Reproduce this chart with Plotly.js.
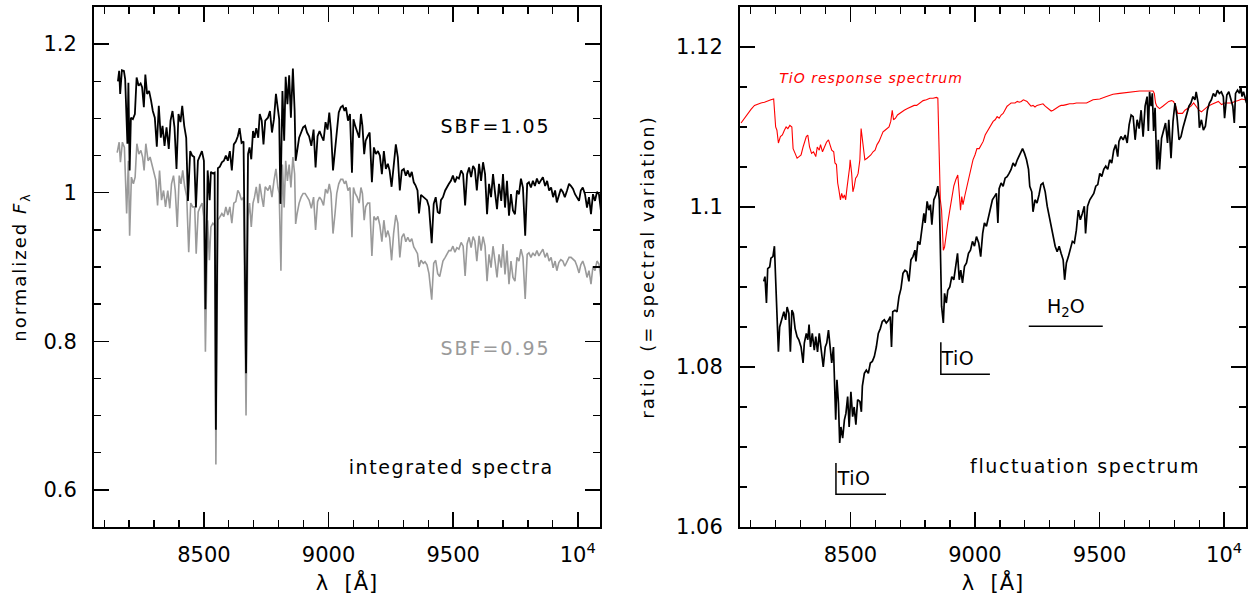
<!DOCTYPE html>
<html>
<head>
<meta charset="utf-8">
<script src="https://cdn.plot.ly/plotly-3.0.1.min.js"></script>
<style>html,body{margin:0;padding:0;background:#fff;}#chart{width:1253px;height:595px;}</style>
</head>
<body>
<div id="chart"></div>
<script>
// ---------- Left panel: integrated spectra ----------
const lamBlackL = [8155,8160,8164,8171,8179,8184,8193,8197,8202,8207,8215,8223,8230,8238,8246,8252,8259,8265,8272,8280,8288,8295,8303,8311,8319,8327,8334,8342,8350,8359,8366,8374,8382,8390,8398,8406,8413,8421,8429,8436,8445,8453,8461,8468,8476,8484,8492,8500,8506,8515,8523,8528,8536,8543,8548,8556,8564,8572,8580,8588,8596,8604,8612,8620,8628,8636,8643,8651,8659,8669,8677,8683,8690,8697,8703,8710,8718,8724,8732,8739,8746,8757,8765,8773,8781,8789,8797,8802,8807,8815,8822,8828,8835,8842,8849,8857,8864,8868,8874,8882,8890,8898,8906,8914,8922,8931,8940,8948,8956,8964,8972,8980,8988,8996,9003,9010,9018,9026,9033,9041,9049,9057,9064,9070,9078,9086,9094,9100,9107,9115,9123,9130,9136,9143,9149,9157,9165,9174,9182,9190,9198,9206,9214,9222,9230,9238,9245,9253,9261,9270,9278,9286,9294,9302,9310,9318,9326,9334,9342,9349,9357,9363,9371,9380,9387,9395,9403,9414,9422,9430,9438,9446,9451,9459,9468,9476,9483,9491,9499,9507,9515,9523,9532,9540,9548,9556,9564,9572,9580,9587,9595,9604,9612,9620,9628,9636,9644,9652,9660,9668,9676,9684,9693,9700,9708,9716,9724,9732,9740,9748,9756,9764,9772,9780,9789,9797,9804,9812,9820,9828,9836,9844,9852,9860,9869,9877,9885,9893,9901,9909,9916,9924,9932,9940,9948,9957,9965,9973,9981,9989,9997,10005,10012,10020,10029,10037,10045,10053,10061,10069,10077,10085,10093];
const fluxBlackL = [1.150,1.164,1.133,1.165,1.164,1.153,1.066,1.148,1.030,1.101,1.099,1.106,1.155,1.144,1.147,1.142,1.115,1.159,1.133,1.137,1.124,1.110,1.101,1.062,1.117,1.074,1.090,1.063,1.088,1.059,1.097,1.110,1.088,1.032,1.106,1.095,1.117,1.090,1.074,0.989,1.056,1.050,1.048,0.980,1.043,1.050,1.056,1.043,0.843,1.030,0.990,1.028,1.026,1.027,0.681,1.033,1.035,1.041,1.043,1.050,1.043,1.056,1.030,1.065,1.069,1.076,1.087,1.067,1.069,0.757,1.052,1.061,1.045,1.083,1.074,1.087,1.074,1.106,1.097,1.065,1.097,1.101,1.110,1.081,1.099,1.133,1.115,1.099,0.985,1.137,1.070,1.156,1.119,1.158,1.101,1.167,1.110,1.043,1.056,1.074,1.081,1.088,1.090,1.081,1.076,1.063,1.085,1.034,1.076,1.083,1.076,1.070,1.095,1.085,1.108,1.083,1.030,1.059,1.083,1.108,1.115,1.117,1.110,1.115,1.097,1.106,1.027,1.099,1.090,1.081,1.074,1.106,1.090,1.052,1.070,1.076,1.081,1.014,1.061,1.052,1.056,1.050,1.025,1.056,1.032,1.039,1.030,1.008,1.034,1.065,1.048,1.003,1.030,1.032,1.023,1.030,1.021,1.028,1.014,1.010,1.003,0.972,0.997,0.994,0.992,0.990,0.981,0.932,0.985,0.994,0.974,0.972,0.990,0.994,1.003,1.009,1.012,1.016,1.023,1.014,1.021,1.019,1.030,1.025,0.983,1.025,1.034,1.021,1.036,1.032,1.003,1.039,1.016,1.041,1.025,0.971,1.012,0.994,1.025,1.000,0.978,1.012,0.989,1.025,0.980,1.016,0.969,0.998,0.976,0.971,1.003,0.998,1.019,1.007,0.942,1.012,1.014,1.007,1.016,1.009,1.019,1.012,1.016,1.021,1.009,1.016,1.003,1.007,0.994,1.003,0.987,0.998,1.005,1.001,0.994,1.003,1.012,1.009,1.005,0.998,0.994,0.989,1.003,1.007,0.998,0.980,0.994,0.971,0.998,0.989,1.001,0.998,0.975];

const lamGrayL = [8152,8160,8165,8173,8181,8190,8197,8202,8209,8217,8224,8231,8239,8247,8254,8260,8267,8276,8284,8291,8299,8307,8314,8322,8330,8338,8346,8355,8363,8370,8378,8385,8393,8401,8408,8415,8423,8431,8439,8447,8455,8463,8469,8477,8485,8493,8499,8506,8515,8522,8528,8536,8543,8548,8556,8564,8572,8580,8588,8596,8604,8612,8620,8628,8636,8643,8651,8659,8669,8677,8683,8690,8697,8703,8710,8718,8724,8732,8739,8746,8757,8765,8773,8781,8789,8797,8802,8809,8815,8822,8828,8835,8842,8849,8857,8864,8868,8874,8882,8890,8898,8906,8914,8922,8931,8940,8948,8956,8964,8972,8980,8988,8996,9003,9010,9018,9026,9033,9041,9049,9057,9064,9070,9078,9086,9094,9100,9107,9115,9123,9130,9136,9143,9149,9157,9165,9174,9182,9190,9198,9206,9214,9222,9230,9238,9245,9253,9261,9270,9278,9286,9294,9302,9310,9318,9326,9334,9342,9349,9357,9363,9371,9380,9387,9395,9403,9414,9422,9430,9438,9446,9451,9459,9468,9476,9483,9491,9499,9507,9515,9523,9532,9540,9548,9556,9564,9572,9580,9587,9595,9604,9612,9620,9628,9636,9644,9652,9660,9668,9676,9684,9693,9700,9708,9716,9724,9732,9740,9748,9756,9764,9772,9780,9789,9797,9804,9812,9820,9828,9836,9844,9852,9860,9869,9877,9885,9893,9901,9909,9916,9924,9932,9940,9948,9957,9965,9973,9981,9989,9997,10005,10012,10020,10029,10037,10045,10053,10061,10069,10077,10085,10093];
const fluxGrayL = [1.054,1.068,1.041,1.068,1.061,0.972,1.043,0.942,1.021,1.012,1.021,1.066,1.052,1.057,1.048,1.030,1.066,1.043,1.048,1.039,1.026,1.017,0.983,1.030,0.990,1.003,0.981,1.003,0.979,1.012,1.023,1.003,0.954,1.023,1.012,1.030,1.008,0.995,0.920,0.986,0.981,0.981,0.918,0.974,0.981,0.986,0.968,0.786,0.963,0.909,0.954,0.959,0.956,0.634,0.963,0.968,0.972,0.968,0.981,0.970,0.981,0.959,0.986,0.988,1.003,0.999,0.990,0.994,0.700,0.968,0.986,0.954,0.986,0.994,1.008,0.986,1.012,0.994,0.981,1.008,1.003,1.010,0.994,1.016,1.032,1.007,0.999,0.895,1.038,0.980,1.043,1.016,1.038,1.007,1.048,1.025,0.958,0.972,0.986,0.994,0.999,0.999,0.994,0.990,0.979,0.994,0.950,0.988,0.994,0.990,0.983,1.005,0.999,1.012,0.999,0.945,0.972,0.999,1.012,1.018,1.018,1.012,1.016,1.003,1.007,0.940,1.007,0.999,0.994,0.986,1.007,0.999,0.963,0.981,0.986,0.986,0.915,0.968,0.963,0.968,0.956,0.934,0.963,0.940,0.949,0.940,0.909,0.945,0.970,0.959,0.913,0.940,0.945,0.934,0.940,0.934,0.938,0.927,0.923,0.918,0.900,0.909,0.905,0.907,0.903,0.891,0.856,0.905,0.909,0.891,0.887,0.895,0.908,0.913,0.917,0.922,0.922,0.928,0.920,0.926,0.924,0.933,0.928,0.888,0.931,0.940,0.926,0.941,0.935,0.908,0.942,0.922,0.941,0.928,0.881,0.917,0.899,0.928,0.908,0.886,0.917,0.899,0.931,0.890,0.922,0.877,0.908,0.886,0.881,0.913,0.908,0.924,0.913,0.857,0.917,0.919,0.913,0.919,0.915,0.922,0.915,0.919,0.924,0.913,0.919,0.908,0.913,0.899,0.908,0.895,0.906,0.910,0.908,0.901,0.908,0.913,0.913,0.910,0.908,0.901,0.892,0.903,0.908,0.899,0.886,0.895,0.877,0.901,0.895,0.908,0.904,0.884];

// ---------- Right panel: fluctuation spectrum ----------
const lamRatio = [8152,8157,8163,8168,8176,8181,8189,8195,8200,8205,8211,8216,8225,8233,8240,8246,8253,8259,8265,8271,8278,8286,8293,8302,8310,8315,8323,8329,8334,8340,8347,8355,8361,8368,8375,8383,8391,8399,8405,8412,8418,8425,8432,8437,8441,8446,8452,8457,8462,8469,8476,8482,8489,8495,8502,8509,8515,8522,8529,8538,8544,8548,8556,8564,8572,8580,8588,8596,8604,8612,8620,8628,8636,8644,8652,8660,8665,8670,8679,8687,8695,8703,8711,8719,8727,8735,8743,8751,8759,8763,8771,8779,8787,8795,8800,8808,8815,8821,8827,8835,8843,8851,8857,8862,8866,8873,8878,8885,8891,8899,8907,8915,8923,8930,8937,8943,8950,8958,8966,8974,8982,8990,8998,9006,9015,9023,9031,9038,9046,9054,9062,9070,9078,9086,9092,9097,9105,9113,9121,9129,9137,9145,9153,9161,9170,9178,9186,9191,9199,9207,9215,9220,9228,9233,9241,9249,9257,9265,9273,9282,9290,9298,9306,9314,9322,9330,9338,9346,9354,9360,9367,9375,9383,9391,9399,9407,9415,9423,9431,9439,9444,9452,9461,9469,9477,9485,9493,9501,9509,9517,9525,9533,9541,9549,9557,9565,9573,9578,9586,9595,9603,9611,9619,9627,9635,9643,9651,9659,9667,9675,9683,9691,9696,9701,9707,9712,9717,9723,9730,9736,9741,9749,9757,9765,9773,9778,9787,9795,9803,9811,9819,9827,9835,9843,9851,9859,9867,9875,9883,9888,9896,9901,9909,9917,9925,9933,9941,9949,9957,9965,9973,9981,9989,9997,10002,10011,10019,10027,10035,10041,10046,10054,10062,10067,10072,10078,10083,10090,10098];
const ratio = [1.0907,1.0913,1.0880,1.0923,1.0925,1.0936,1.0938,1.0951,1.0909,1.0859,1.0819,1.0850,1.0861,1.0869,1.0859,1.0875,1.0867,1.0819,1.0871,1.0867,1.0848,1.0838,1.0834,1.0825,1.0805,1.0830,1.0842,1.0834,1.0853,1.0825,1.0842,1.0821,1.0838,1.0819,1.0842,1.0817,1.0800,1.0825,1.0830,1.0846,1.0830,1.0805,1.0825,1.0784,1.0734,1.0784,1.0755,1.0705,1.0725,1.0711,1.0734,1.0742,1.0763,1.0725,1.0769,1.0738,1.0750,1.0728,1.0759,1.0757,1.0744,1.0776,1.0792,1.0796,1.0792,1.0805,1.0807,1.0813,1.0825,1.0842,1.0848,1.0857,1.0859,1.0855,1.0858,1.0863,1.0825,1.0869,1.0871,1.0869,1.0888,1.0898,1.0917,1.0921,1.0919,1.0907,1.0934,1.0938,1.0946,1.0932,1.0957,1.0953,1.0973,1.0992,1.0980,1.1007,1.0996,1.1003,1.0978,1.1009,1.1015,1.1026,1.1009,1.0942,1.0876,1.0855,1.0892,1.0880,1.0896,1.0900,1.0913,1.0909,1.0928,1.0942,1.0909,1.0921,1.0905,1.0926,1.0930,1.0942,1.0946,1.0957,1.0951,1.0963,1.0955,1.0938,1.0967,1.0980,1.0976,1.0988,1.1001,1.1009,1.1013,1.1017,1.0980,1.1023,1.1030,1.1026,1.1036,1.1038,1.1042,1.1047,1.1055,1.1051,1.1059,1.1065,1.1069,1.1073,1.1067,1.1059,1.1047,1.1026,1.1019,1.0994,1.1009,1.1005,1.1015,1.1028,1.1030,1.1019,1.1001,1.0988,1.0978,1.0967,1.0951,1.0944,1.0951,1.0942,1.0934,1.0909,1.0930,1.0938,1.0946,1.0957,1.0955,1.0971,1.0996,1.0984,1.0992,1.1001,1.0967,1.1001,1.1009,1.1013,1.1017,1.1026,1.1028,1.1042,1.1038,1.1047,1.1051,1.1047,1.1059,1.1055,1.1071,1.1078,1.1063,1.1082,1.1088,1.1084,1.1090,1.1080,1.1103,1.1115,1.1113,1.1084,1.1109,1.1098,1.1121,1.1088,1.1126,1.1138,1.1095,1.1144,1.1126,1.1142,1.1095,1.1124,1.1047,1.1084,1.1047,1.1086,1.1096,1.1105,1.1080,1.1109,1.1061,1.1107,1.1130,1.1113,1.1084,1.1088,1.1099,1.1109,1.1117,1.1126,1.1130,1.1138,1.1134,1.1144,1.1130,1.1099,1.1109,1.1096,1.1101,1.1121,1.1130,1.1134,1.1142,1.1138,1.1146,1.1142,1.1144,1.1138,1.1111,1.1140,1.1144,1.1134,1.1126,1.1105,1.1142,1.1146,1.1142,1.1151,1.1138,1.1144,1.1138,1.1130,1.1142];

const lamTiO = [8061,8074,8088,8101,8115,8128,8141,8155,8168,8181,8192,8200,8205,8211,8219,8227,8235,8242,8249,8257,8265,8270,8278,8286,8294,8302,8310,8315,8323,8329,8336,8344,8352,8361,8367,8375,8380,8388,8396,8404,8412,8417,8425,8433,8438,8444,8449,8454,8460,8465,8470,8476,8481,8486,8491,8497,8499,8505,8510,8515,8521,8526,8531,8538,8543,8548,8553,8558,8567,8574,8582,8591,8599,8607,8615,8623,8631,8639,8647,8655,8662,8668,8673,8681,8689,8697,8705,8716,8729,8743,8756,8766,8779,8792,8805,8819,8832,8845,8851,8856,8861,8866,8873,8878,8883,8891,8899,8907,8915,8923,8931,8937,8942,8947,8952,8960,8968,8976,8984,8992,9000,9008,9017,9025,9033,9041,9049,9057,9065,9073,9081,9089,9097,9105,9113,9121,9129,9137,9145,9153,9161,9170,9178,9186,9194,9201,9209,9217,9225,9233,9241,9249,9257,9265,9273,9282,9290,9298,9306,9314,9322,9330,9338,9346,9354,9367,9380,9394,9407,9420,9448,9474,9501,9528,9554,9581,9608,9634,9661,9688,9715,9720,9725,9730,9741,9754,9768,9778,9789,9797,9806,9814,9822,9833,9843,9854,9867,9878,9888,9899,9909,9923,9936,9949,9964,9977,9990,10003,10017,10030,10043,10057,10071,10084,10103];
const tioResp = [1.1105,1.1111,1.1117,1.1122,1.1127,1.1129,1.1130,1.1131,1.1133,1.1134,1.1135,1.1100,1.1096,1.1080,1.1088,1.1090,1.1096,1.1100,1.1098,1.1102,1.1100,1.1073,1.1067,1.1061,1.1063,1.1065,1.1075,1.1080,1.1088,1.1090,1.1075,1.1067,1.1069,1.1063,1.1075,1.1071,1.1078,1.1069,1.1075,1.1081,1.1084,1.1078,1.1071,1.1069,1.1055,1.1053,1.1030,1.1021,1.1009,1.1017,1.1011,1.1015,1.1009,1.1023,1.1034,1.1050,1.1059,1.1042,1.1019,1.1025,1.1036,1.1038,1.1042,1.1059,1.1098,1.1084,1.1067,1.1059,1.1061,1.1063,1.1065,1.1069,1.1071,1.1078,1.1082,1.1088,1.1094,1.1096,1.1098,1.1100,1.1107,1.1121,1.1109,1.1111,1.1115,1.1117,1.1119,1.1121,1.1123,1.1125,1.1127,1.1127,1.1130,1.1133,1.1134,1.1136,1.1136,1.1137,1.1136,1.1080,1.1009,1.0996,1.0946,1.0950,1.0963,1.0980,1.0996,1.1013,1.1026,1.1034,1.1040,1.1017,1.0996,1.1013,1.1003,1.1015,1.1026,1.1036,1.1046,1.1059,1.1065,1.1073,1.1073,1.1078,1.1082,1.1090,1.1094,1.1098,1.1103,1.1107,1.1109,1.1113,1.1111,1.1115,1.1117,1.1121,1.1126,1.1128,1.1130,1.1130,1.1130,1.1132,1.1131,1.1132,1.1134,1.1133,1.1132,1.1129,1.1126,1.1127,1.1125,1.1127,1.1128,1.1129,1.1129,1.1126,1.1124,1.1122,1.1120,1.1121,1.1123,1.1125,1.1126,1.1127,1.1127,1.1128,1.1129,1.1129,1.1130,1.1130,1.1130,1.1134,1.1135,1.1138,1.1141,1.1142,1.1143,1.1144,1.1145,1.1145,1.1145,1.1142,1.1130,1.1126,1.1123,1.1126,1.1130,1.1132,1.1133,1.1132,1.1126,1.1117,1.1117,1.1117,1.1121,1.1123,1.1126,1.1130,1.1126,1.1121,1.1119,1.1123,1.1126,1.1128,1.1130,1.1132,1.1128,1.1130,1.1130,1.1130,1.1132,1.1133,1.1135,1.1134,1.1135];

const majorTicksX = [8500, 9000, 9500, 10000];
const majorTickTextX = ['8500', '9000', '9500', '10<sup>4</sup>'];

const FONT = 'DejaVu Sans, Verdana, sans-serif';

function label(xa, ya, x, y, txt, size, color, pos) {
  return {x: [x], y: [y], xaxis: xa, yaxis: ya, type: 'scatter', mode: 'text',
          text: [txt], textposition: pos || 'middle center', cliponaxis: false,
          textfont: {family: FONT, size: size, color: color}, hoverinfo: 'skip', showlegend: false};
}

const traces = [
  {x: lamGrayL, y: fluxGrayL, xaxis: 'x', yaxis: 'y', type: 'scatter', mode: 'lines',
   line: {color: '#9a9a9a', width: 1.6}, name: 'SBF=0.95'},
  {x: lamBlackL, y: fluxBlackL, xaxis: 'x', yaxis: 'y', type: 'scatter', mode: 'lines',
   line: {color: '#000000', width: 1.8}, name: 'SBF=1.05'},
  {x: lamTiO, y: tioResp, xaxis: 'x2', yaxis: 'y2', type: 'scatter', mode: 'lines',
   line: {color: '#ff0000', width: 1.1}, name: 'TiO response spectrum'},
  {x: lamRatio, y: ratio, xaxis: 'x2', yaxis: 'y2', type: 'scatter', mode: 'lines',
   line: {color: '#000000', width: 1.7}, name: 'fluctuation spectrum'},
  label('x', 'y', 9670, 1.0874, 'SBF=1.05', 19, '#000'),
  label('x', 'y', 9670, 0.7875, 'SBF=0.95', 19, '#9a9a9a'),
  label('x', 'y', 9492, 0.628, 'integrated spectra', 19, '#000'),
  label('x2', 'y2', 8583, 1.1159, '<i>TiO response spectrum</i>', 14, '#ff0000'),
  label('x2', 'y2', 9365, 1.0874, 'H<sub>2</sub>O', 19, '#000'),
  label('x2', 'y2', 8866, 1.0809, 'TiO', 19, '#000', 'middle right'),
  label('x2', 'y2', 8449, 1.0659, 'TiO', 19, '#000', 'middle right'),
  label('x2', 'y2', 9442, 1.0673, 'fluctuation spectrum', 19, '#000')
];

function xAxis(domain, anchor, range) {
  return {
    domain: domain, anchor: anchor, range: range,
    tickmode: 'array', tickvals: majorTicksX, ticktext: majorTickTextX,
    ticks: 'inside', ticklen: 15, tickwidth: 1.5, tickcolor: '#000',
    minor: {tickmode: 'linear', tick0: 8000, dtick: 100, ticks: 'inside', ticklen: 7, tickwidth: 1.3, tickcolor: '#000', showgrid: false},
    showline: true, linewidth: 2, linecolor: '#000', mirror: 'ticks',
    showgrid: false, zeroline: false, ticklabelstandoff: 8,
    tickfont: {family: FONT, size: 21, color: '#000'},
    title: {text: 'λ  [Å]', font: {family: FONT, size: 21, color: '#000'}, standoff: 10}
  };
}

const layout = {
  width: 1253, height: 595,
  margin: {l: 94, r: 7, t: 7, b: 68},
  paper_bgcolor: '#fff', plot_bgcolor: '#fff',
  showlegend: false,
  font: {family: FONT, color: '#000'},
  xaxis: xAxis([0, 0.4392], 'y', [8059, 10089]),
  xaxis2: xAxis([0.5608, 1], 'y2', [8057, 10088]),
  yaxis: {
    domain: [0, 1], anchor: 'x', range: [0.55, 1.25], tick0: 0.6, dtick: 0.2,
    ticks: 'inside', ticklen: 15, tickwidth: 1.5, tickcolor: '#000',
    minor: {tick0: 0.6, dtick: 0.05, ticks: 'inside', ticklen: 7, tickwidth: 1.3, tickcolor: '#000', showgrid: false},
    showline: true, linewidth: 2, linecolor: '#000', mirror: 'ticks',
    showgrid: false, zeroline: false, ticklabelstandoff: 11,
    tickfont: {family: FONT, size: 21, color: '#000'},
    title: {text: 'normalized <i>F</i><sub>λ</sub>', font: {family: FONT, size: 18, color: '#000'}, standoff: 12}
  },
  yaxis2: {
    domain: [0, 1], anchor: 'x2', range: [1.06, 1.125], tick0: 1.06, dtick: 0.02,
    ticks: 'inside', ticklen: 15, tickwidth: 1.5, tickcolor: '#000',
    minor: {tick0: 1.06, dtick: 0.005, ticks: 'inside', ticklen: 7, tickwidth: 1.3, tickcolor: '#000', showgrid: false},
    showline: true, linewidth: 2, linecolor: '#000', mirror: 'ticks',
    showgrid: false, zeroline: false, ticklabelstandoff: 11,
    tickfont: {family: FONT, size: 21, color: '#000'},
    title: {text: 'ratio  (= spectral variation)', font: {family: FONT, size: 18, color: '#000'}, standoff: 17}
  },
  shapes: [
    {type: 'line', xref: 'x2', yref: 'y2', x0: 9216, x1: 9513, y0: 1.0851, y1: 1.0851, line: {color: '#000', width: 1.5}},
    {type: 'path', xref: 'x2', yref: 'y2', path: 'M 8863 1.0831 L 8863 1.0791 L 9060 1.0791', line: {color: '#000', width: 1.5}},
    {type: 'path', xref: 'x2', yref: 'y2', path: 'M 8442 1.0680 L 8442 1.0641 L 8643 1.0641', line: {color: '#000', width: 1.5}}
  ]
};

const spacing = {
  'SBF=1.05': '2px', 'SBF=0.95': '2px', 'integrated spectra': '1.6px',
  'fluctuation spectrum': '1.6px', 'TiO response spectrum': '1px', 'TiO': '0.5px', 'H2O': '0.5px'
};

Plotly.newPlot('chart', traces, layout, {displayModeBar: false, staticPlot: true}).then(function (gd) {
  gd.querySelectorAll('.textpoint text').forEach(function (t) {
    const ls = spacing[t.textContent.trim()];
    if (ls) t.style.letterSpacing = ls;
  });
  gd.querySelectorAll('.g-ytitle text, .g-y2title text').forEach(function (t) {
    t.style.letterSpacing = '2px';
  });
  gd.querySelectorAll('.g-xtitle text, .g-x2title text').forEach(function (t) {
    t.style.letterSpacing = '1px';
  });
});
</script>
</body>
</html>
